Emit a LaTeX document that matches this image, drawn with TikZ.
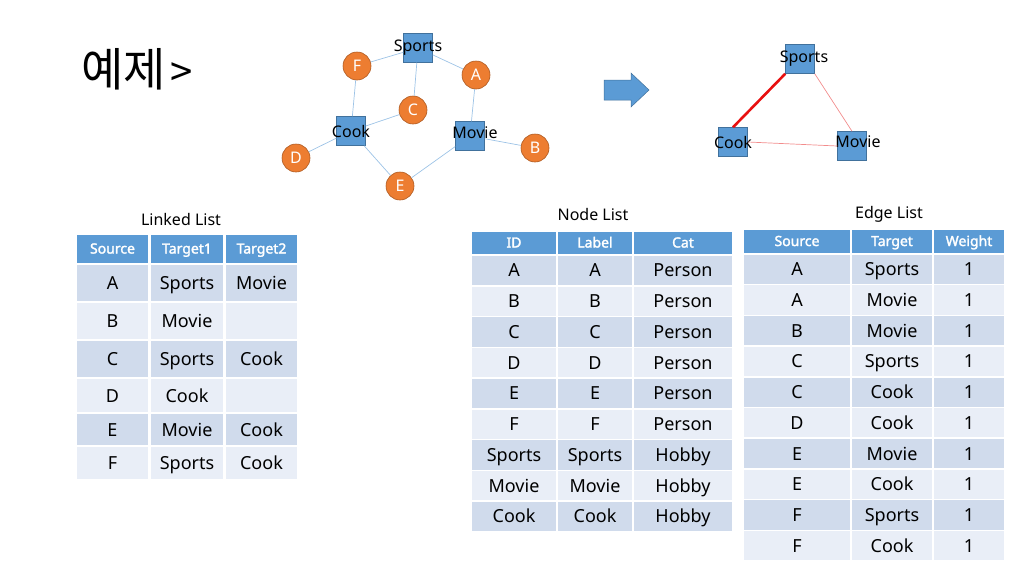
\documentclass[tikz,border=0pt]{standalone}
\usepackage{fontspec}
\setmainfont{Noto Sans}[AutoFakeBold=2]
\newfontfamily\kofont{Noto Sans CJK KR}
\usepackage{xcolor}
\definecolor{hdblue}{HTML}{5B9BD5}
\definecolor{hdline}{HTML}{41719C}
\definecolor{rowdark}{HTML}{D0DBEC}
\definecolor{rowlight}{HTML}{E9EEF7}
\definecolor{persorange}{HTML}{ED7D31}
\definecolor{persline}{HTML}{AE5A21}
\definecolor{tieblue}{HTML}{9DC3E6}
\definecolor{tiered}{HTML}{E81010}
\definecolor{tiepink}{HTML}{F28C8C}
\tikzset{%
    % sizes in px of the slide
    fs/.style = {font=\fontsize{#1}{#1}\selectfont},
    hobby/.style = {
        rectangle, fill=hdblue, draw=hdline, line width=0.5pt,
        minimum size=29pt, inner sep=0pt
    },
    person/.style = {
        circle, fill=persorange, draw=persline, line width=0.6pt,
        minimum size=28pt, inner sep=0pt, text=white, fs=16
    },
    tie/.style = {draw=tieblue, line width=0.7pt},
    cell/.style = {
        rectangle, draw=white, line width=1.5pt, inner sep=0pt,
        text height=13pt, text depth=0pt, fs=18
    },
    hdcell/.style = {cell, fill=hdblue, text=white,
        text height=10pt, text depth=1pt, font=\bfseries\fontsize{14}{14}\selectfont},
    dkcell/.style = {cell, fill=rowdark},
    ltcell/.style = {cell, fill=rowlight},
    tabtitle/.style = {fs=16}
}
\begin{document}
\begin{tikzpicture}[x=1pt, y=-1pt]
    \useasboundingbox (0,0) rectangle (1024,576);
    \node[font=\kofont\fontsize{46}{46}\selectfont, anchor=west] (title) at (78,69)
        {예제\hspace{4pt}\fontsize{40}{40}\selectfont>};

    % graph before
    \node[hobby, label={[fs=16]center:Sports}] (sports) at (418,48) {};
    \node[hobby, label={[fs=16]center:Cook}] (cook) at (351,131) {};
    \node[hobby, label={[fs=16, xshift=5pt, yshift=3pt]center:Movie}] (movie) at (470,136) {};
    \node[person] (F) at (357,66) {F};
    \node[person] (A) at (476,75) {A};
    \node[person] (C) at (413,110) {C};
    \node[person] (B) at (535,148) {B};
    \node[person] (D) at (296,158) {D};
    \node[person] (E) at (400,186) {E};
    \draw[tie] (F) -- (sports);
    \draw[tie] (sports) -- (A);
    \draw[tie] (sports) -- (C);
    \draw[tie] (A) -- (movie);
    \draw[tie] (F) -- (cook);
    \draw[tie] (C) -- (cook);
    \draw[tie] (D) -- (cook);
    \draw[tie] (cook) -- (E);
    \draw[tie] (E) -- (movie);
    \draw[tie] (movie) -- (B);

    % block arrow
    \filldraw[fill=hdblue, draw=hdline, line width=0.5pt]
        (604,80) -- (631,80) -- (631,73) -- (649,90) -- (631,107) -- (631,100) -- (604,100) -- cycle;

    % graph after
    \node[hobby, label={[fs=16, xshift=4pt]center:Sports}] (sports2) at (800,59) {};
    \node[hobby, label={[fs=16]center:Cook}] (cook2) at (733,142) {};
    \node[hobby, label={[fs=16, xshift=6pt, yshift=4pt]center:Movie}] (movie2) at (852,146) {};
    \draw[tiered, line width=2.6pt] (sports2.south west) -- (cook2.north);
    \draw[tiepink, line width=0.7pt] (sports2.south east) -- (movie2.north);
    \draw[tiepink, line width=0.7pt] (cook2.east) -- (movie2.west);

    % linked list
    \node[tabtitle] (lltitle) at (181,219) {Linked List};
    \node[hdcell, minimum width=73pt, minimum height=30pt] (ll-h1) at (112.5,249) {Source};
    \node[hdcell, minimum width=74pt, minimum height=30pt] (ll-h2) at (187,249) {Target1};
    \node[hdcell, minimum width=73pt, minimum height=30pt] (ll-h3) at (261.5,249) {Target2};
    \foreach \rw/\yc/\hh/\st/\ca/\cb/\cc in {
        1/283/38/dkcell/A/Sports/Movie,
        2/321/38/ltcell/B/Movie/{},
        3/359/38/dkcell/C/Sports/Cook,
        4/395.5/35/ltcell/D/Cook/{},
        5/429.5/33/dkcell/E/Movie/Cook,
        6/463/34/ltcell/F/Sports/Cook} {
        \node[\st, minimum width=73pt, minimum height=\hh pt] (ll-\rw-1) at (112.5,\yc) {\ca};
        \node[\st, minimum width=74pt, minimum height=\hh pt] (ll-\rw-2) at (187,\yc) {\cb};
        \node[\st, minimum width=73pt, minimum height=\hh pt] (ll-\rw-3) at (261.5,\yc) {\cc};
    }

    % node list
    \node[tabtitle] (nltitle) at (593,214) {Node List};
    \node[hdcell, minimum width=86pt, minimum height=24pt] (nl-h1) at (514,243) {ID};
    \node[hdcell, minimum width=76pt, minimum height=24pt] (nl-h2) at (595,243) {Label};
    \node[hdcell, minimum width=100pt, minimum height=24pt] (nl-h3) at (683,243) {Cat};
    \foreach \ca/\cc [count=\rw] in {A/Person, B/Person, C/Person, D/Person, E/Person,
        F/Person, Sports/Hobby, Movie/Hobby, Cook/Hobby} {
        \pgfmathsetmacro\yc{255+15.375+30.75*(\rw-1)}
        \ifodd\rw\relax \def\st{dkcell}\else \def\st{ltcell}\fi
        \node[\st, minimum width=86pt, minimum height=30.75pt] (nl-\rw-1) at (514,\yc) {\ca};
        \node[\st, minimum width=76pt, minimum height=30.75pt] (nl-\rw-2) at (595,\yc) {\ca};
        \node[\st, minimum width=100pt, minimum height=30.75pt] (nl-\rw-3) at (683,\yc) {\cc};
    }

    % edge list
    \node[tabtitle] (eltitle) at (889,214) {Edge List};
    \node[hdcell, minimum width=108pt, minimum height=25pt] (el-h1) at (797,241.5) {Source};
    \node[hdcell, minimum width=82pt, minimum height=25pt] (el-h2) at (892,241.5) {Target};
    \node[hdcell, minimum width=72pt, minimum height=25pt] (el-h3) at (969,241.5) {Weight};
    \foreach \ca/\cb [count=\rw] in {A/Sports, A/Movie, B/Movie, C/Sports, C/Cook,
        D/Cook, E/Movie, E/Cook, F/Sports, F/Cook} {
        \pgfmathsetmacro\yc{254+15.35+30.7*(\rw-1)}
        \ifodd\rw\relax \def\st{dkcell}\else \def\st{ltcell}\fi
        \node[\st, minimum width=108pt, minimum height=30.7pt] (el-\rw-1) at (797,\yc) {\ca};
        \node[\st, minimum width=82pt, minimum height=30.7pt] (el-\rw-2) at (892,\yc) {\cb};
        \node[\st, minimum width=72pt, minimum height=30.7pt] (el-\rw-3) at (969,\yc) {1};
    }
\end{tikzpicture}
\end{document}
